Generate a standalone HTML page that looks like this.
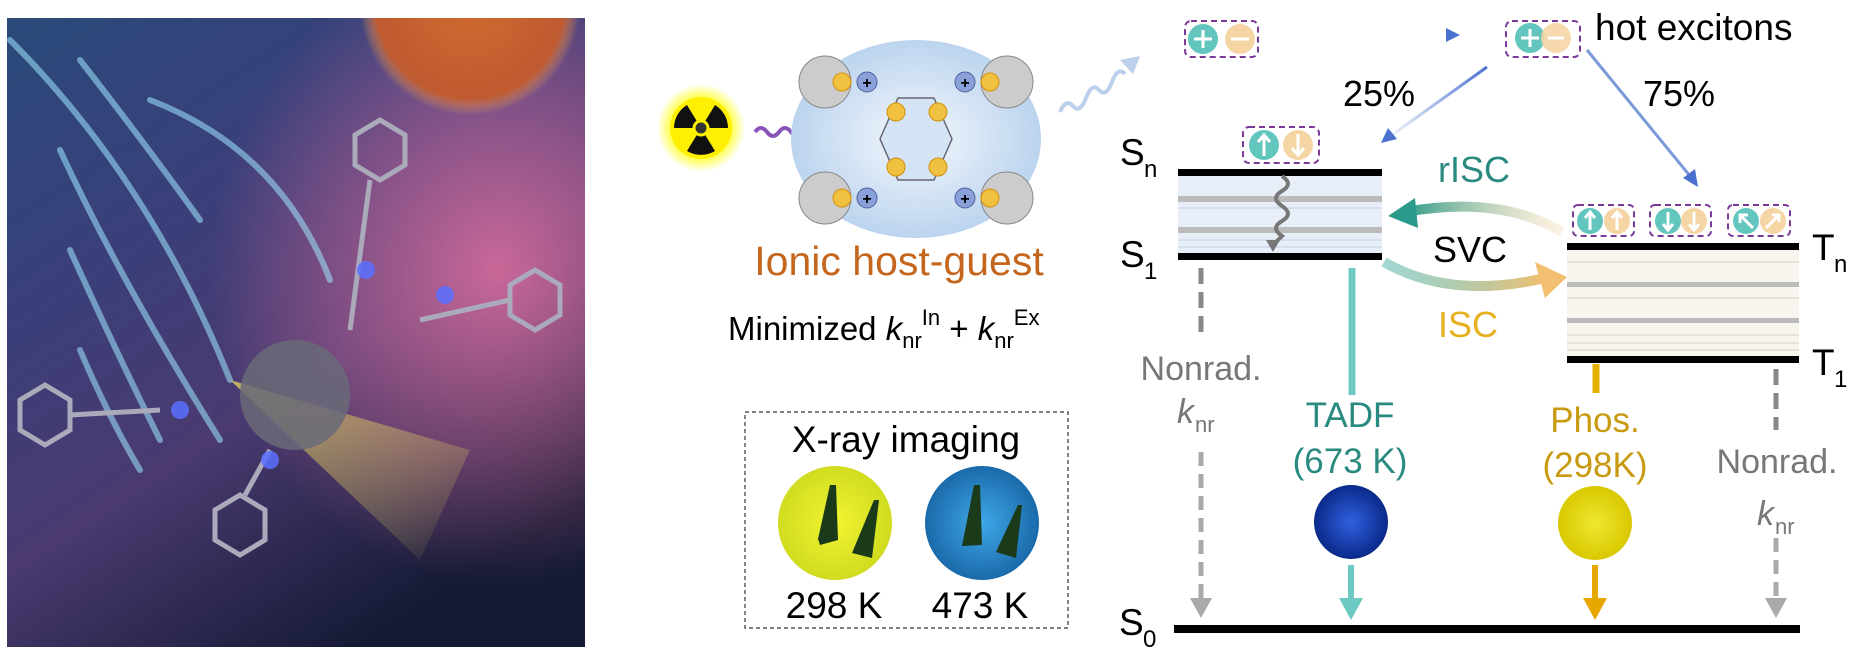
<!DOCTYPE html>
<html><head><meta charset="utf-8"><style>
body{margin:0;background:#fff;width:1861px;height:655px;overflow:hidden}
svg{display:block}
text{font-family:"Liberation Sans",Arial,sans-serif}
</style></head><body>
<svg width="1861" height="655" viewBox="0 0 1861 655">
<defs>
<linearGradient id="sky" x1="0" y1="0" x2="0.6" y2="1">
<stop offset="0" stop-color="#2a4a7a"/><stop offset="0.35" stop-color="#3a3f7a"/><stop offset="0.65" stop-color="#4a3a70"/><stop offset="1" stop-color="#151a35"/></linearGradient>
<radialGradient id="neb" cx="0.85" cy="0.4" r="0.5"><stop offset="0" stop-color="#e070a0" stop-opacity="0.85"/><stop offset="1" stop-color="#e070a0" stop-opacity="0"/></radialGradient>
<radialGradient id="sun" cx="0.5" cy="0.5" r="0.5"><stop offset="0" stop-color="#d06a30"/><stop offset="0.85" stop-color="#c05a30"/><stop offset="1" stop-color="#e0a060" stop-opacity="0"/></radialGradient>
<radialGradient id="glow" cx="0.5" cy="0.5" r="0.5"><stop offset="0.55" stop-color="#ffff00"/><stop offset="1" stop-color="#ffff00" stop-opacity="0"/></radialGradient>
<radialGradient id="ell" cx="0.5" cy="0.5" r="0.5"><stop offset="0" stop-color="#f4f8fd"/><stop offset="1" stop-color="#bcd4ee"/></radialGradient>
<radialGradient id="yc" cx="0.5" cy="0.5" r="0.5"><stop offset="0" stop-color="#f2f430"/><stop offset="1" stop-color="#d0dc20"/></radialGradient>
<radialGradient id="bc" cx="0.5" cy="0.5" r="0.5"><stop offset="0" stop-color="#40a8e8"/><stop offset="1" stop-color="#1a6aaa"/></radialGradient>
<radialGradient id="tb" cx="0.5" cy="0.5" r="0.5"><stop offset="0" stop-color="#3060e0"/><stop offset="1" stop-color="#0a2a8a"/></radialGradient>
<radialGradient id="ty" cx="0.5" cy="0.5" r="0.5"><stop offset="0" stop-color="#f0e830"/><stop offset="1" stop-color="#d8c800"/></radialGradient>
<linearGradient id="rg" x1="1" y1="0" x2="0" y2="0"><stop offset="0" stop-color="#f5d5a0" stop-opacity="0.3"/><stop offset="1" stop-color="#2a9a8a"/></linearGradient>
<linearGradient id="ig" x1="0" y1="0" x2="1" y2="0"><stop offset="0" stop-color="#4ab0a8" stop-opacity="0.5"/><stop offset="1" stop-color="#f2c070"/></linearGradient>
<linearGradient id="ba" x1="0" y1="0" x2="1" y2="0"><stop offset="0" stop-color="#5a80d0" stop-opacity="0.1"/><stop offset="1" stop-color="#4a70d0"/></linearGradient>
<linearGradient id="yb" x1="0" y1="0" x2="1" y2="1"><stop offset="0" stop-color="#f0e060" stop-opacity="0.7"/><stop offset="1" stop-color="#f0e060" stop-opacity="0"/></linearGradient>
<clipPath id="pc"><rect x="7" y="18" width="578" height="629"/></clipPath>
</defs>

<!-- left painting -->
<g clip-path="url(#pc)">
<rect x="7" y="18" width="578" height="629" fill="url(#sky)"/>
<rect x="7" y="18" width="578" height="629" fill="url(#neb)"/>
<circle cx="470" cy="5" r="110" fill="url(#sun)"/>
<g stroke="#9fe8ff" stroke-width="6" opacity="0.55" fill="none" stroke-linecap="round">
<path d="M10,40 Q150,180 230,380"/><path d="M80,60 Q150,150 200,220"/><path d="M60,150 Q120,280 220,440"/><path d="M70,250 Q120,360 160,440"/><path d="M150,100 Q280,150 330,280"/><path d="M80,350 Q110,420 140,470"/></g>
<path d="M230,380 L420,560 L470,450 Z" fill="url(#yb)"/>
<circle cx="295" cy="395" r="55" fill="#6a6a78" opacity="0.85"/>
<g stroke="#aab" stroke-width="5" fill="none">
<polygon points="355,135 380,120 405,135 405,165 380,180 355,165"/>
<polygon points="20,400 45,385 70,400 70,430 45,445 20,430"/>
<polygon points="510,285 535,270 560,285 560,315 535,330 510,315"/>
<polygon points="215,510 240,495 265,510 265,540 240,555 215,540"/>
<path d="M370,180 L350,330 M70,415 L160,410 M510,300 L420,320 M245,495 L270,450"/></g>
<g fill="#5a70ff" opacity="0.85"><circle cx="366" cy="270" r="9"/><circle cx="445" cy="295" r="9"/><circle cx="180" cy="410" r="9"/><circle cx="270" cy="460" r="9"/></g>
</g>

<!-- radiation -->
<circle cx="701" cy="128" r="44" fill="url(#glow)"/>
<circle cx="701" cy="128" r="31" fill="#ffef00"/>
<path d="M701,128 L674,128 A27,27 0 0 1 687,105 Z M701,128 L715,105 A27,27 0 0 1 728,128 Z M701,128 L715,151 A27,27 0 0 1 687,151 Z" fill="#111"/>
<circle cx="701" cy="128" r="7" fill="#333" stroke="#ffef00" stroke-width="3"/>
<path d="M755,132 q6,-8 12,0 t12,0 t12,0 t12,0 t12,0 L830,132" stroke="#8a55b8" stroke-width="4" fill="none"/>
<path d="M826,124 L840,132 L826,140 z" fill="#8a55b8"/>

<!-- host-guest ellipse -->
<ellipse cx="916" cy="139" rx="125" ry="99" fill="url(#ell)"/>
<polygon points="898,180 934,180 952,139 934,98 898,98 880,139" fill="#d4e4f5" stroke="#667" stroke-width="1.5"/>
<g fill="#ccc" stroke="#888"><circle cx="825" cy="82" r="26"/><circle cx="825" cy="198" r="26"/><circle cx="1007" cy="82" r="26"/><circle cx="1007" cy="198" r="26"/></g>
<g fill="#f0c040" stroke="#d09010"><circle cx="842" cy="82" r="9"/><circle cx="842" cy="198" r="9"/><circle cx="990" cy="82" r="9"/><circle cx="990" cy="198" r="9"/><circle cx="896" cy="112" r="9"/><circle cx="938" cy="112" r="9"/><circle cx="896" cy="167" r="9"/><circle cx="938" cy="167" r="9"/></g>
<g fill="#8aa0d8" stroke="#5060a0"><circle cx="867" cy="82" r="10"/><circle cx="965" cy="82" r="10"/><circle cx="867" cy="198" r="10"/><circle cx="965" cy="198" r="10"/></g>
<g font-size="16" font-weight="bold" text-anchor="middle"><text x="867" y="88">+</text><text x="965" y="88">+</text><text x="867" y="204">+</text><text x="965" y="204">+</text></g>
<text x="899" y="275" font-size="41" fill="#c4661e" text-anchor="middle">Ionic host-guest</text>
<text x="728" y="340" font-size="33" fill="#000">Minimized <tspan font-style="italic">k</tspan><tspan font-size="22" dy="8">nr</tspan><tspan font-size="22" dy="-23">In</tspan><tspan dy="15"> + </tspan><tspan font-style="italic">k</tspan><tspan font-size="22" dy="8">nr</tspan><tspan font-size="22" dy="-23">Ex</tspan></text>

<!-- X-ray box -->
<rect x="745" y="412" width="323" height="216" fill="none" stroke="#333" stroke-dasharray="4,3" stroke-width="1.2"/>
<text x="906" y="452" font-size="37" text-anchor="middle">X-ray imaging</text>
<circle cx="835" cy="523" r="57" fill="url(#yc)"/>
<circle cx="982" cy="523" r="57" fill="url(#bc)"/>
<g fill="#1a3a1a"><path d="M830,485 L836,485 L838,540 L820,545 L818,539 Z"/><path d="M874,500 L879,500 L872,558 L852,553 Z"/><path d="M974,485 L980,485 L982,545 L962,546 Z"/><path d="M1018,505 L1022,505 L1016,558 L996,552 Z"/></g>
<text x="834" y="618" font-size="37" text-anchor="middle">298 K</text>
<text x="980" y="618" font-size="37" text-anchor="middle">473 K</text>

<!-- light wave -->
<path d="M1060,112 q6,-14 13,-6 t13,-8 t13,-8 t13,-8 t13,-8" stroke="#bcd0ec" stroke-width="4" fill="none"/>
<path d="M1120,60 L1140,56 L1133,74 z" fill="#bcd0ec"/>

<!-- charge pairs -->
<rect x="1185" y="21" width="73" height="36" rx="6" fill="none" stroke="#7a3a9a" stroke-width="2" stroke-dasharray="6,4"/>
<circle cx="1203" cy="39" r="15" fill="#62c6be"/><circle cx="1240" cy="39" r="15" fill="#f5d5a4"/>
<path d="M1203,30 v18 M1194,39 h18 M1231,39 h18" stroke="#fff" stroke-width="3"/>
<path d="M1293,35 L1450,35" stroke="url(#ba)" stroke-width="3"/>
<path d="M1446,28 L1460,35 L1446,42 z" fill="#4a70d0"/>
<rect x="1506" y="21" width="74" height="36" rx="6" fill="none" stroke="#7a3a9a" stroke-width="2" stroke-dasharray="6,4"/>
<circle cx="1530" cy="38" r="15" fill="#62c6be"/><circle cx="1556" cy="38" r="15" fill="#f5d5a4" opacity="0.9"/>
<path d="M1530,29 v18 M1521,38 h18 M1548,38 h16" stroke="#fff" stroke-width="3"/>
<text x="1595" y="40" font-size="37">hot excitons</text>
<text x="1343" y="106" font-size="36">25%</text>
<text x="1643" y="106" font-size="36">75%</text>
<path d="M1487,67 L1392,135" stroke="url(#ba)" stroke-width="3"/>
<path d="M1381,143 L1388,128 L1397,139 z" fill="#4a70d0"/>
<path d="M1587,50 L1690,176" stroke="#7a9ad8" stroke-width="3"/>
<path d="M1698,187 L1683,178 L1695,169 z" fill="#4a70d0"/>

<!-- S levels -->
<rect x="1178" y="176" width="204" height="77" fill="#e8eef8"/>
<g fill="#bbb"><rect x="1178" y="196" width="204" height="6"/><rect x="1178" y="227" width="204" height="6"/></g>
<g stroke="#c0cde0"><path d="M1178,208 h204 M1178,240 h204 M1178,247 h204"/></g>
<rect x="1178" y="169" width="204" height="7" fill="#000"/>
<rect x="1178" y="253" width="204" height="7" fill="#000"/>
<path d="M1282,176 q12,8 0,15 t0,15 t0,15 t0,15 L1273,245" stroke="#777" stroke-width="4" fill="none"/>
<path d="M1266,240 L1273,252 L1280,240 z" fill="#777"/>
<rect x="1243" y="127" width="76" height="36" rx="6" fill="none" stroke="#7a3a9a" stroke-width="2" stroke-dasharray="6,4"/>
<circle cx="1264" cy="145" r="15" fill="#62c6be"/><circle cx="1298" cy="145" r="15" fill="#f5d5a4"/>
<path d="M1264,156 v-20 M1258,142 l6,-7 l6,7 M1298,134 v20 M1292,148 l6,7 l6,-7" stroke="#fff" stroke-width="3" fill="none"/>
<text x="1120" y="165" font-size="37">S</text><text x="1144" y="177" font-size="24">n</text>
<text x="1120" y="267" font-size="37">S</text><text x="1144" y="279" font-size="24">1</text>

<!-- T levels -->
<rect x="1567" y="250" width="232" height="106" fill="#f8f5ee"/>
<g fill="#bbb"><rect x="1567" y="282" width="232" height="5"/><rect x="1567" y="318" width="232" height="5"/></g>
<g stroke="#d8d0c0"><path d="M1567,262 h232 M1567,298 h232 M1567,335 h232 M1567,343 h232 M1567,350 h232"/></g>
<rect x="1567" y="243" width="232" height="7" fill="#000"/>
<rect x="1567" y="356" width="232" height="7" fill="#000"/>
<text x="1812" y="260" font-size="37">T</text><text x="1834" y="272" font-size="24">n</text>
<text x="1812" y="375" font-size="37">T</text><text x="1834" y="387" font-size="24">1</text>
<g stroke="#7a3a9a" stroke-width="2" stroke-dasharray="6,4" fill="none">
<rect x="1573" y="205" width="61" height="31" rx="5"/><rect x="1650" y="205" width="61" height="31" rx="5"/><rect x="1728" y="205" width="62" height="31" rx="5"/></g>
<g fill="#62c6be"><circle cx="1590" cy="221" r="13"/><circle cx="1668" cy="221" r="13"/><circle cx="1746" cy="221" r="13"/></g>
<g fill="#f5d5a4"><circle cx="1617" cy="221" r="13"/><circle cx="1694" cy="221" r="13"/><circle cx="1773" cy="221" r="13"/></g>
<g stroke="#fff" stroke-width="3" fill="none">
<path d="M1590,230 v-16 M1585,218 l5,-6 l5,6 M1617,230 v-16 M1612,218 l5,-6 l5,6"/>
<path d="M1668,212 v16 M1663,224 l5,6 l5,-6 M1694,212 v16 M1689,224 l5,6 l5,-6"/>
<path d="M1753,228 l-12,-12 M1740,223 v-8 h8 M1766,228 l12,-12 M1772,215 h7 v7"/></g>

<!-- rISC / ISC arrows -->
<path d="M1562,232 Q1500,195 1405,212" stroke="url(#rg)" stroke-width="10" fill="none"/>
<path d="M1388,216 L1415,198 L1418,228 z" fill="#2a9a8a"/>
<path d="M1384,262 Q1450,300 1545,278" stroke="url(#ig)" stroke-width="10" fill="none"/>
<path d="M1567,277 L1535,262 L1545,298 z" fill="#f2c070"/>
<text x="1438" y="182" font-size="36" fill="#2a8a80">rISC</text>
<text x="1433" y="262" font-size="36">SVC</text>
<text x="1438" y="337" font-size="36" fill="#e6b020">ISC</text>

<!-- decay lines -->
<path d="M1201,268 V335" stroke="#888" stroke-width="5" stroke-dasharray="16,8"/>
<text x="1201" y="380" font-size="34" fill="#777" text-anchor="middle">Nonrad.</text>
<text x="1177" y="423" font-size="34" fill="#777" font-style="italic">k</text><text x="1195" y="432" font-size="22" fill="#777">nr</text>
<path d="M1201,452 V600" stroke="#aaa" stroke-width="5" stroke-dasharray="14,8"/>
<path d="M1190,598 L1201,618 L1212,598 z" fill="#aaa"/>

<path d="M1352,268 V395" stroke="#6ccac2" stroke-width="7"/>
<text x="1350" y="427" font-size="35" fill="#2a8a80" text-anchor="middle">TADF</text>
<text x="1350" y="473" font-size="35" fill="#2a8a80" text-anchor="middle">(673 K)</text>
<ellipse cx="1351" cy="522" rx="37" ry="37" fill="url(#tb)"/>
<path d="M1351,565 V605" stroke="#6ccac2" stroke-width="6"/>
<path d="M1339,598 L1351,620 L1363,598 z" fill="#6ccac2"/>

<path d="M1596,364 V393" stroke="#e6b000" stroke-width="7"/>
<text x="1595" y="432" font-size="35" fill="#c89a10" text-anchor="middle">Phos.</text>
<text x="1595" y="477" font-size="35" fill="#c89a10" text-anchor="middle">(298K)</text>
<ellipse cx="1595" cy="523" rx="37" ry="37" fill="url(#ty)"/>
<path d="M1595,565 V605" stroke="#e6a800" stroke-width="6"/>
<path d="M1583,598 L1595,620 L1607,598 z" fill="#e6a800"/>

<path d="M1776,369 V430" stroke="#888" stroke-width="5" stroke-dasharray="16,8"/>
<text x="1777" y="473" font-size="34" fill="#777" text-anchor="middle">Nonrad.</text>
<text x="1757" y="525" font-size="34" fill="#777" font-style="italic">k</text><text x="1775" y="534" font-size="22" fill="#777">nr</text>
<path d="M1776,538 V600" stroke="#aaa" stroke-width="5" stroke-dasharray="14,8"/>
<path d="M1765,598 L1776,618 L1787,598 z" fill="#aaa"/>

<!-- S0 -->
<rect x="1174" y="625" width="626" height="8" fill="#000"/>
<text x="1119" y="635" font-size="37">S</text><text x="1143" y="647" font-size="24">0</text>
</svg>
</body></html>
